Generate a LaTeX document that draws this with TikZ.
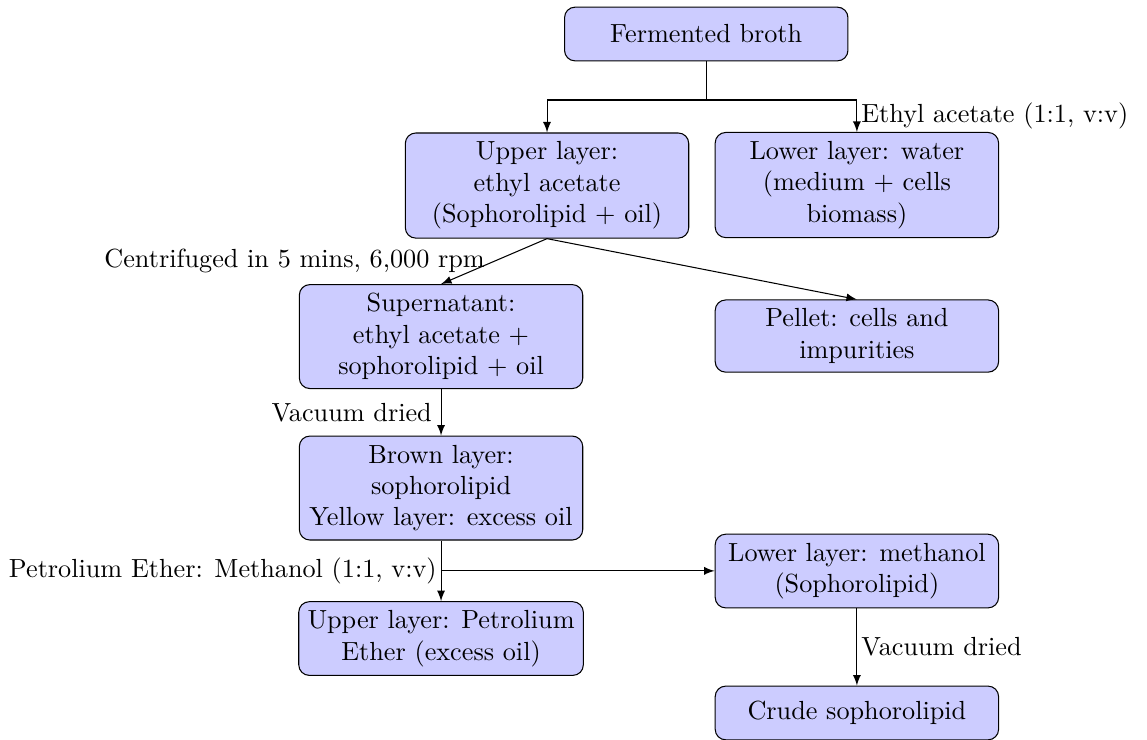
\documentclass[tikz,border=0pt]{standalone}
\begin{document}
\begin{tikzpicture}[
  stage/.style={draw,rounded corners,fill=blue!20,align=center,
    minimum width=3.8cm,minimum height=0.72cm},
  flow/.style={-latex},
  tight/.style={inner xsep=1.5pt}
]
  \useasboundingbox (0,0) rectangle (15.38,-9.92);

  \node[stage] (broth)    at (9.47,-0.456)  {Fermented broth};
  \node[stage] (upper)    at (7.335,-2.488) {Upper layer:\\ ethyl acetate\\ (Sophorolipid + oil)};
  \node[stage] (lower)    at (11.49,-2.481) {Lower layer: water\\ (medium + cells\\ biomass)};
  \node[stage] (super)    at (5.914,-4.513) {Supernatant:\\ ethyl acetate +\\ sophorolipid + oil};
  \node[stage] (pellet)   at (11.49,-4.506) {Pellet: cells and\\ impurities};
  \node[stage] (brown)    at (5.914,-6.544) {Brown layer:\\ sophorolipid\\ Yellow layer: excess oil};
  \node[stage] (methanol) at (11.49,-7.657) {Lower layer: methanol\\ (Sophorolipid)};
  \node[stage] (petrol)   at (5.914,-8.562) {Upper layer: Petrolium\\ Ether (excess oil)};
  \node[stage] (crude)    at (11.49,-9.56)  {Crude sophorolipid};

  \coordinate (split) at (9.47,-1.341);
  \draw (broth) -- (split);
  \draw[flow] (split) -| (upper);
  \draw[flow] (split) -| node[pos=0.75,right,tight] {Ethyl acetate (1:1, v:v)} (lower);

  \draw[flow] (upper.south) -- node[midway,left] {Centrifuged in 5 mins, 6,000 rpm} (super.north);
  \draw[flow] (upper.south) -- (pellet.north);
  \draw[flow] (super) -- node[midway,left] {Vacuum dried} (brown);

  \draw[flow] (brown) -- coordinate[midway] (mix) (petrol);
  \node[left,tight] (mixlabel) at (mix) {Petrolium Ether: Methanol (1:1, v:v)};
  \draw[flow] (mix) -- (mix -| methanol.west);
  \draw[flow] (methanol) -- node[midway,right,tight] {Vacuum dried} (crude);
\end{tikzpicture}
\end{document}
